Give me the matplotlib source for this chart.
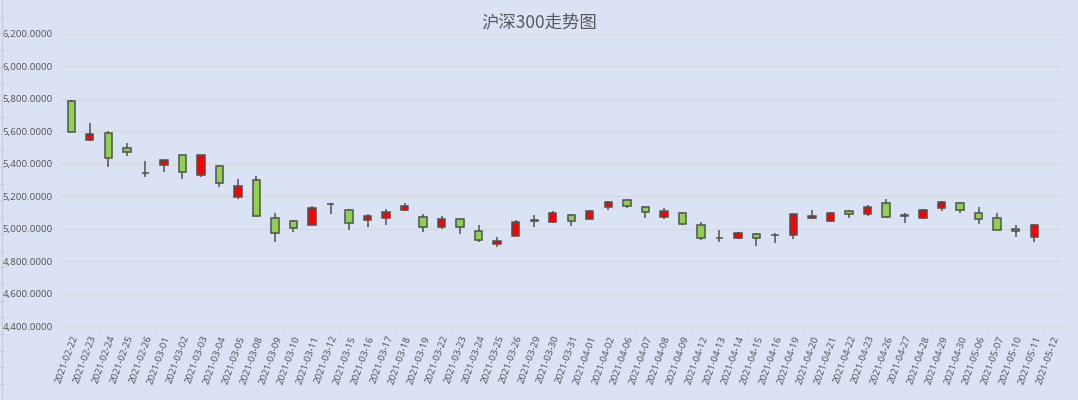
import numpy as np
import matplotlib
matplotlib.use("Agg")
import matplotlib.pyplot as plt
from matplotlib.lines import Line2D

dates = ["2021-02-22", "2021-02-23", "2021-02-24", "2021-02-25", "2021-02-26",
         "2021-03-01", "2021-03-02", "2021-03-03", "2021-03-04", "2021-03-05",
         "2021-03-08", "2021-03-09", "2021-03-10", "2021-03-11", "2021-03-12",
         "2021-03-15", "2021-03-16", "2021-03-17", "2021-03-18", "2021-03-19",
         "2021-03-22", "2021-03-23", "2021-03-24", "2021-03-25", "2021-03-26",
         "2021-03-29", "2021-03-30", "2021-03-31", "2021-04-01", "2021-04-02",
         "2021-04-06", "2021-04-07", "2021-04-08", "2021-04-09", "2021-04-12",
         "2021-04-13", "2021-04-14", "2021-04-15", "2021-04-16", "2021-04-19",
         "2021-04-20", "2021-04-21", "2021-04-22", "2021-04-23", "2021-04-26",
         "2021-04-27", "2021-04-28", "2021-04-29", "2021-04-30", "2021-05-06",
         "2021-05-07", "2021-05-10", "2021-05-11", "2021-05-12"]
nan = float("nan")
opens = [5788, 5548, 5591, 5498, 5343, 5394, 5455, 5332, 5388, 5197,
         5301, 5067, 5048, 5023, 5152, 5116, 5054, 5067, 5116, 5073,
         5011, 5060, 4986, 4906, 4955, 5049, 5042, 5085, 5060, 5135,
         5173, 5134, 5074, 5097, 5025, 4944, 4944, 4969, 4962, 4963,
         5062, 5049, 5111, 5087, 5155, 5076, 5068, 5124, 5155, 5093,
         5068, 5000, 4950, nan]
highs = [5790, 5648, 5601, 5529, 5418, 5425, 5456, 5456, 5394, 5308,
         5326, 5097, 5054, 5141, 5155, 5122, 5087, 5122, 5159, 5089,
         5075, 5067, 5023, 4949, 5054, 5085, 5110, 5087, 5116, 5172,
         5179, 5136, 5124, 5099, 5043, 4994, 4981, 4971, 4975, 5089,
         5117, 5105, 5117, 5148, 5179, 5093, 5119, 5167, 5161, 5130,
         5093, 5019, 5031, nan]
lows = [5595, 5542, 5382, 5449, 5320, 5351, 5308, 5320, 5259, 5179,
        5078, 4920, 4980, 5021, 5091, 4993, 5011, 5023, 5108, 4980,
        4997, 4968, 4918, 4888, 4953, 5011, 5036, 5017, 5058, 5116,
        5124, 5062, 5056, 5019, 4932, 4920, 4938, 4895, 4913, 4938,
        5056, 5043, 5062, 5080, 5068, 5037, 5056, 5111, 5093, 5031,
        4992, 4950, 4920, nan]
closes = [5597, 5585, 5437, 5474, 5340, 5420, 5351, 5455, 5283, 5265,
          5079, 4974, 5005, 5128, 5149, 5036, 5079, 5104, 5141, 5011,
          5060, 5011, 4931, 4925, 5042, 5051, 5097, 5048, 5110, 5163,
          5136, 5099, 5111, 5031, 4944, 4942, 4975, 4944, 4960, 5087,
          5080, 5093, 5087, 5130, 5074, 5085, 5117, 5161, 5117, 5056,
          4994, 4988, 5019, nan]
yticks = [4400, 4600, 4800, 5000, 5200, 5400, 5600, 5800, 6000, 6200]
title = "沪深300走势图"

BG = "#DAE3F3"
GRID = "#D9D9D9"
TXT = "#595959"
UP = "#FF0000"
DOWN = "#92D050"
EDGE = "#505050"

fig = plt.figure(figsize=(10.78, 4.0), dpi=100, facecolor=BG)
ax = fig.add_axes([62 / 1078, 1 - 326 / 400, 1000 / 1078, (326 - 33.7) / 400])
ax.set_facecolor(BG)

x = np.arange(len(dates))
o = np.array(opens, dtype=float)
h = np.array(highs, dtype=float)
l = np.array(lows, dtype=float)
c = np.array(closes, dtype=float)
valid = ~np.isnan(o)
xv = x[valid]
ov, hv, lv, cv = o[valid], h[valid], l[valid], c[valid]

ax.vlines(xv, lv, hv, color=EDGE, linewidth=1.1, zorder=2)
colors = [UP if cc > oo else DOWN for oo, cc in zip(ov, cv)]
heights = np.maximum(np.abs(cv - ov), 1.0)
ax.bar(xv, heights, bottom=np.minimum(ov, cv), width=0.4, color=colors,
       edgecolor=EDGE, linewidth=1.1, zorder=3)

ax.set_xlim(-0.5, len(dates) - 0.5)
ax.set_ylim(yticks[0], yticks[-1])
ax.set_yticks(yticks)
ax.set_yticklabels([f"{v:,.4f}" for v in yticks], fontsize=7, color=TXT,
                   family=["Noto Sans", "DejaVu Sans"])
ax.yaxis.grid(True, color=GRID, linewidth=0.9, zorder=0)
ax.set_axisbelow(True)

ax.set_xticks(x)
ax.set_xticklabels(dates, rotation=70, ha="right", va="top",
                   rotation_mode="anchor", fontsize=7, color=TXT,
                   family=["Noto Sans", "DejaVu Sans"])
ax.set_xticks(np.arange(-0.5, len(dates)), minor=True)
ax.tick_params(axis="x", which="major", length=0, pad=6)
ax.tick_params(axis="x", which="minor", length=4, color=GRID, width=0.9)
ax.tick_params(axis="y", length=0, pad=6.5)

for s in ["top", "right", "left"]:
    ax.spines[s].set_visible(False)
ax.spines["bottom"].set_color(GRID)
ax.spines["bottom"].set_linewidth(0.9)

fig.text(539 / 1078, 1 - 22 / 400, title, ha="center", va="center",
         fontsize=12.5, color=TXT, family=["Noto Sans CJK SC", "DejaVu Sans"])

# faint left edge ruler
fig.add_artist(Line2D([1.5 / 1078, 1.5 / 1078], [0, 1], color="#C8CCD6",
                      linewidth=0.8, transform=fig.transFigure))
for yy in np.arange(16.7, 400, 16.7):
    fig.add_artist(Line2D([0, 4 / 1078], [1 - yy / 400, 1 - yy / 400],
                          color="#C8CCD6", linewidth=0.8,
                          transform=fig.transFigure))

fig.savefig("out.png", dpi=100, facecolor=BG)
